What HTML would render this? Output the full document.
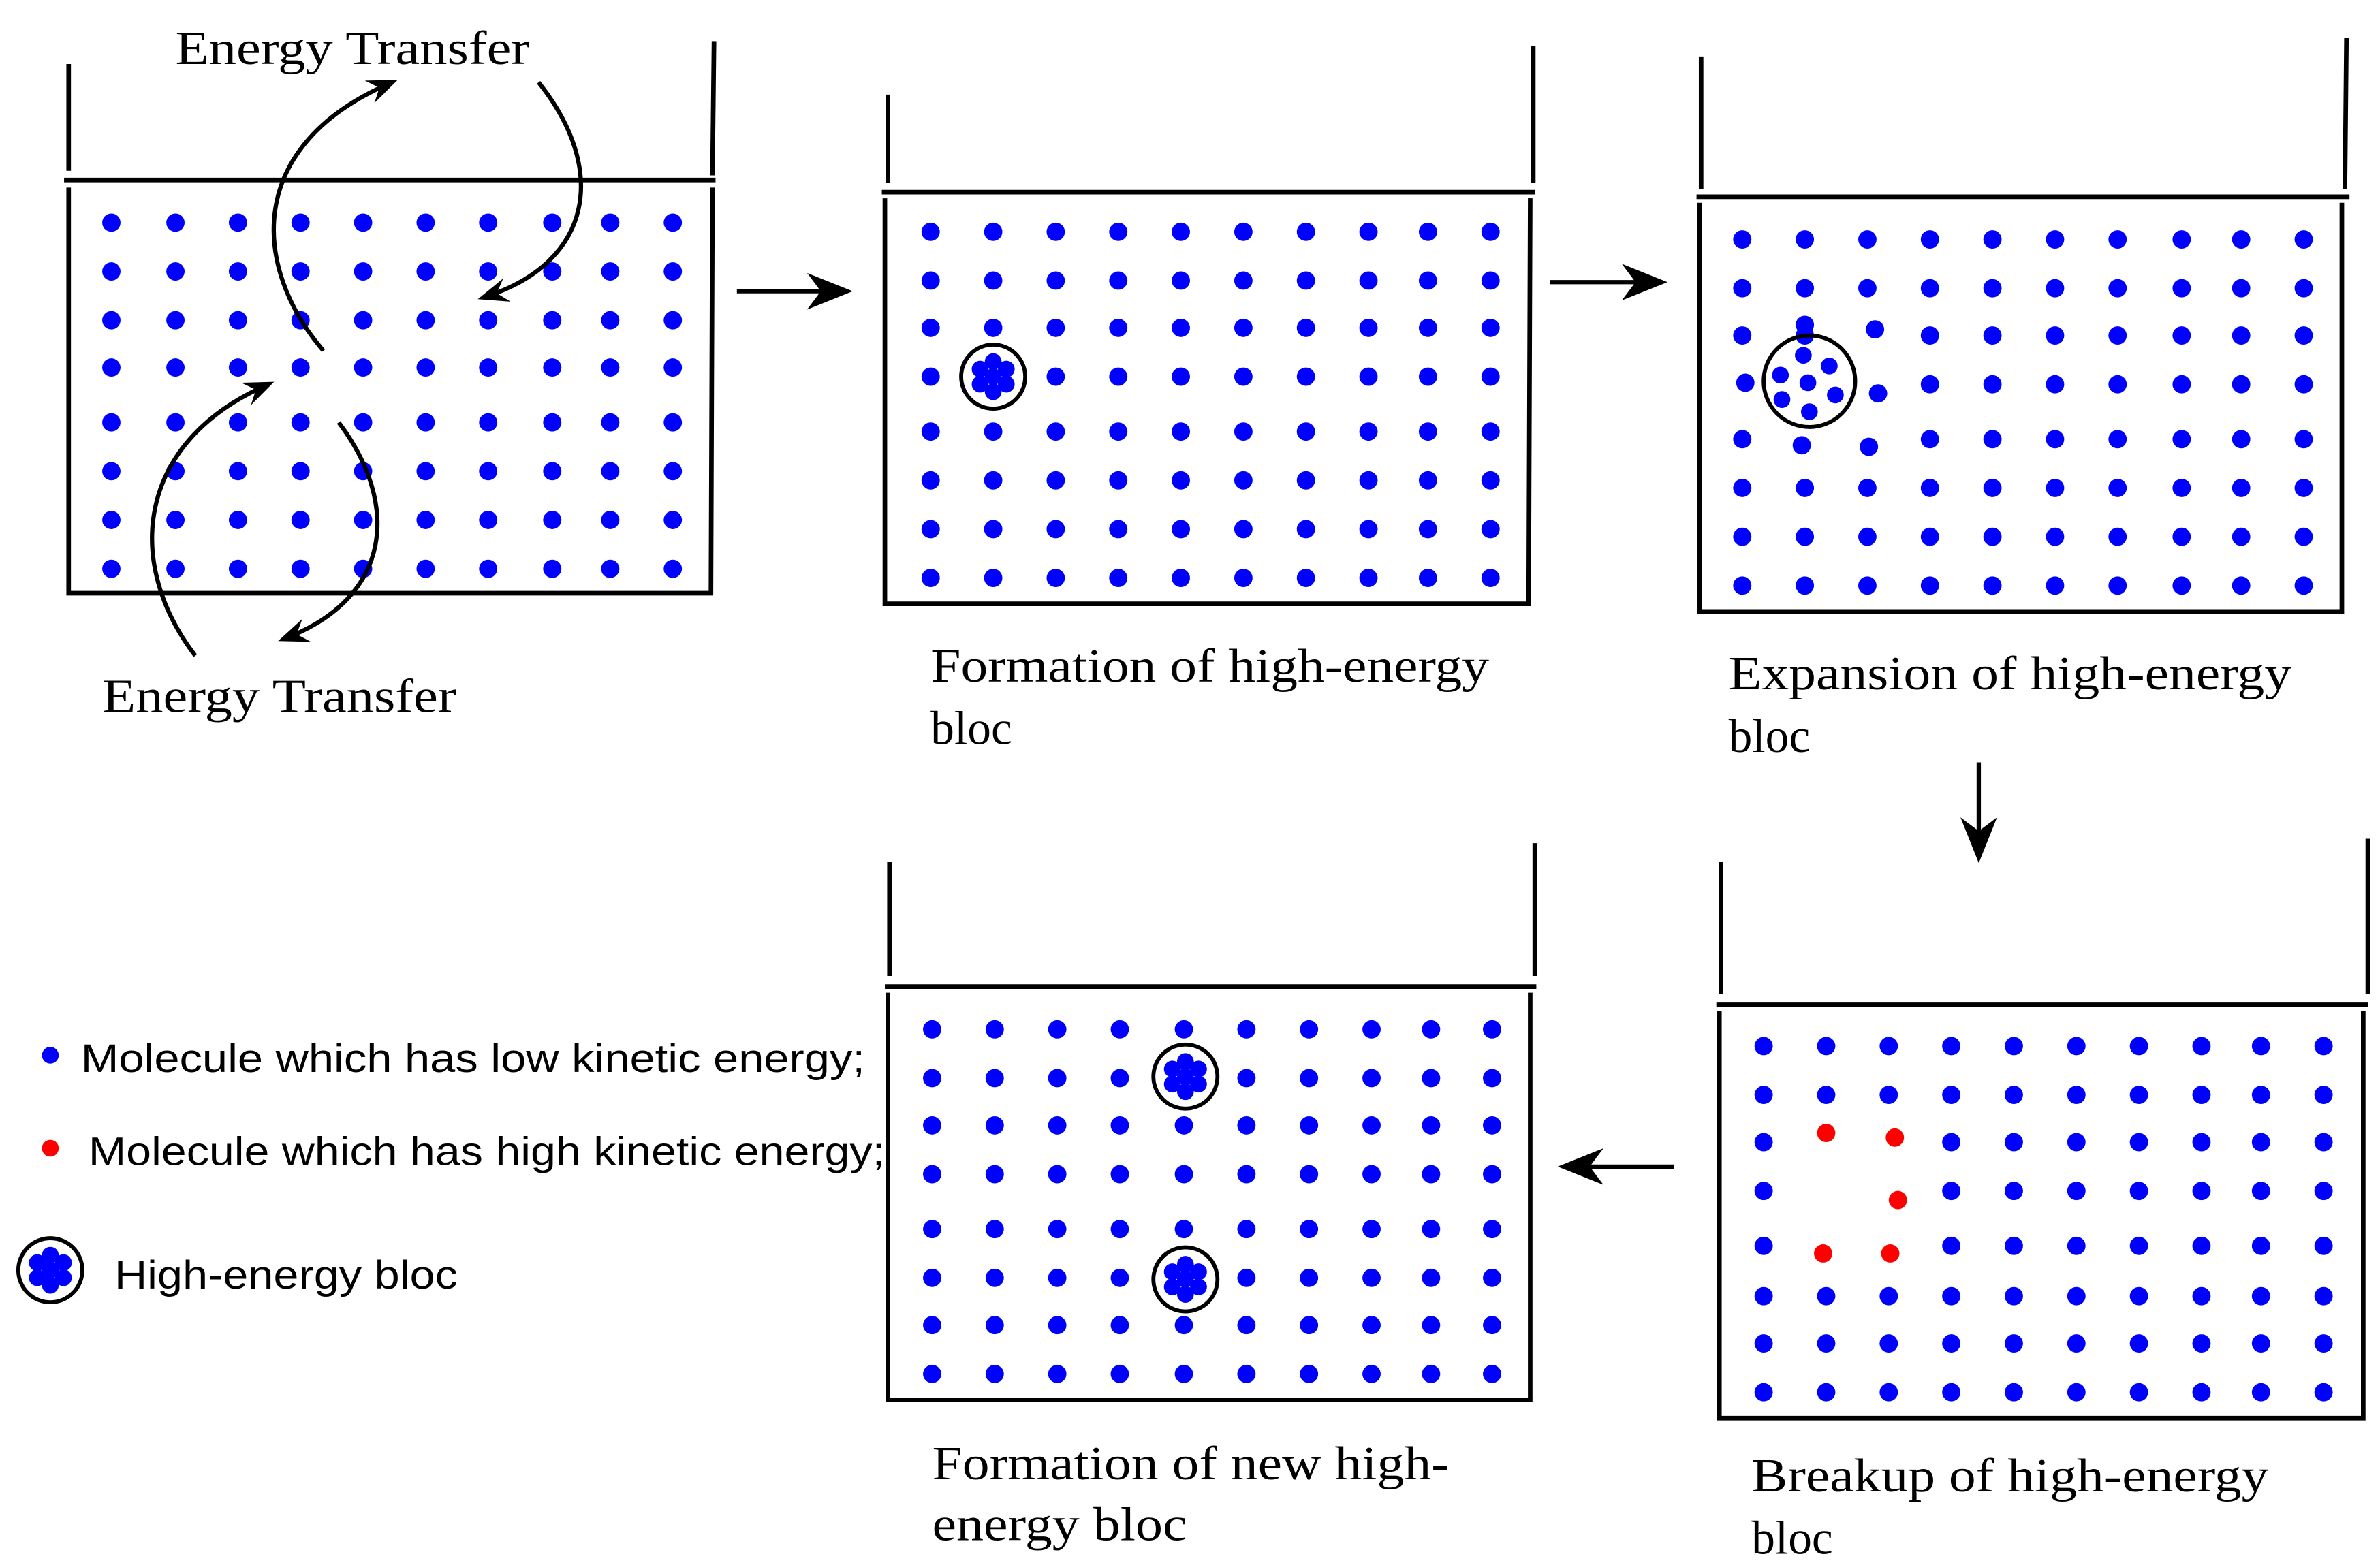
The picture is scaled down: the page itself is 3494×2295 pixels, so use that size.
<!DOCTYPE html>
<html><head><meta charset="utf-8"><style>
html,body{margin:0;padding:0;background:#fff}
svg{display:block}
.serif{font-family:"Liberation Serif",serif;font-size:31px;fill:#000}
.sans{font-family:"Liberation Sans",sans-serif;font-size:26px;fill:#000}
</style></head><body>
<svg id="fig" width="3494" height="2295" viewBox="0 0 1560 1025" preserveAspectRatio="none" xmlns="http://www.w3.org/2000/svg">
<defs><marker id="ah" viewBox="0 0 10 10" refX="8" refY="5" markerWidth="20" markerHeight="20" orient="auto" markerUnits="userSpaceOnUse"><path d="M0,1 L10,5 L0,9 L3.5,5 Z" fill="#000"/></marker>
<marker id="ah2" viewBox="0 0 10 10" refX="8" refY="5" markerWidth="30" markerHeight="30" orient="auto" markerUnits="userSpaceOnUse"><path d="M0,1 L10,5 L0,9 L3,5 Z" fill="#000"/></marker></defs>
<g id="panels" stroke="#000" stroke-width="3" fill="none">
<g><line x1="45" y1="42" x2="45" y2="112"/><line x1="468" y1="27" x2="467" y2="115"/><line x1="42" y1="118" x2="469" y2="118"/><polyline points="45,123 45,389 466,389 467,123"/></g>
<g><line x1="582" y1="62" x2="582" y2="120"/><line x1="1005" y1="30" x2="1005" y2="120"/><line x1="578" y1="126" x2="1006" y2="126"/><polyline points="580,130 580,396 1002,396 1003,130"/></g>
<g><line x1="1115" y1="37" x2="1115" y2="124"/><line x1="1538" y1="25" x2="1537" y2="124"/><line x1="1112" y1="129" x2="1540" y2="129"/><polyline points="1114,133 1114,401 1535,401 1535,133"/></g>
<g><line x1="1128" y1="565" x2="1128" y2="652"/><line x1="1552" y1="550" x2="1552" y2="652"/><line x1="1125" y1="659" x2="1552" y2="659"/><polyline points="1127,663 1127,930 1549,930 1549,663"/></g>
<g><line x1="583" y1="565" x2="583" y2="640"/><line x1="1006" y1="553" x2="1006" y2="640"/><line x1="580" y1="647" x2="1007" y2="647"/><polyline points="582,651 582,918 1003,918 1003,651"/></g>
</g>
<g id="dots"></g>
<g stroke="#000" stroke-width="2.8" fill="none">
<path d="M212,230 C165,175 160,95 257,54" marker-end="url(#ah)"/>
<path d="M353,54 C398,110 390,172 317,195" marker-end="url(#ah)"/>
<path d="M128,430 C82,370 88,290 176,252" marker-end="url(#ah)"/>
<path d="M222,277 C262,330 258,392 186,419" marker-end="url(#ah)"/>
<line x1="483" y1="191" x2="553" y2="191" marker-end="url(#ah2)"/>
<line x1="1016" y1="185" x2="1087" y2="185" marker-end="url(#ah2)"/>
<line x1="1297" y1="500" x2="1297" y2="560" marker-end="url(#ah2)"/>
<line x1="1097" y1="765" x2="1027" y2="765" marker-end="url(#ah2)"/>
</g>
<text class="serif" x="115" y="42" textLength="232" lengthAdjust="spacingAndGlyphs">Energy Transfer</text>
<text class="serif" x="67" y="467" textLength="232" lengthAdjust="spacingAndGlyphs">Energy Transfer</text>
<text class="serif" x="610" y="447" textLength="366" lengthAdjust="spacingAndGlyphs">Formation of high-energy</text>
<text class="serif" x="610" y="488">bloc</text>
<text class="serif" x="1133" y="452" textLength="369" lengthAdjust="spacingAndGlyphs">Expansion of high-energy</text>
<text class="serif" x="1133" y="493">bloc</text>
<text class="serif" x="1148" y="978" textLength="339" lengthAdjust="spacingAndGlyphs">Breakup of high-energy</text>
<text class="serif" x="1148" y="1019">bloc</text>
<text class="serif" x="611" y="970" textLength="339" lengthAdjust="spacingAndGlyphs">Formation of new high-</text>
<text class="serif" x="611" y="1010" textLength="167" lengthAdjust="spacingAndGlyphs">energy bloc</text>
<g>
<circle cx="33" cy="692" r="5.5" fill="#0000ff"/>
<text class="sans" x="53" y="703" textLength="514" lengthAdjust="spacingAndGlyphs">Molecule which has low kinetic energy;</text>
<circle cx="33" cy="753" r="5.5" fill="#ff0000"/>
<text class="sans" x="58" y="764" textLength="522" lengthAdjust="spacingAndGlyphs">Molecule which has high kinetic energy;</text>
<text class="sans" x="75" y="845" textLength="225" lengthAdjust="spacingAndGlyphs">High-energy bloc</text>
</g>
</svg>
<script>
const NS='http://www.w3.org/2000/svg';
const g=document.getElementById('dots');
const p1Cols=[73,115,156,197,238,279,320,362,400,441];
const p1Rows=[146,178,210,241,277,309,341,373];
const p2Cols=[610,651,692,733,774,815,856,897,936,977];
const p2Rows=[152,184,215,247,283,315,347,379];
const p3Cols=[1142,1183,1224,1265,1306,1347,1388,1430,1469,1510];
const p3Rows=[157,189,220,252,288,320,352,384];
const p4Cols=[1156,1197,1238,1279,1320,1361,1402,1443,1482,1523];
const p4Rows=[686,718,749,781,817,850,881,913];
const p5Cols=[611,652,693,734,776,817,858,899,938,978];
const p5Rows=[675,707,738,770,806,838,869,901];
const p2Skip=[[3,1]];
const p3Skip=[[2,2],[3,0],[3,1],[3,2],[4,1],[4,2]];
const p4Skip=[[2,1],[2,2],[3,1],[3,2],[4,1],[4,2]];
const p5Skip=[[1,4],[5,4]];
const p3Extra=[[1229,216],[1144,251],[1231,258],[1181,292],[1225,293],[1183,213]];
const redDots=[[1197,743],[1242,746],[1244,787],[1195,822],[1239,822]];
const blocs=[[651,247,21],[777,706,21],[777,839,21],[33,833,21]];
const expandedBloc=[1186,250,30];
const expandedInner=[[1182,233],[1199,240],[1167,246],[1185,251],[1203,259],[1168,262],[1186,270]];

function dot(x,y,c,r,name){const e=document.createElementNS(NS,'circle');e.setAttribute('cx',x);e.setAttribute('cy',y);e.setAttribute('r',r);e.setAttribute('fill',c);


g.appendChild(e);return e;}
function ring(x,y,r,name){const e=document.createElementNS(NS,'circle');e.setAttribute('cx',x);e.setAttribute('cy',y);e.setAttribute('r',r);e.setAttribute('fill','none');e.setAttribute('stroke','#000');e.setAttribute('stroke-width','2.6');


g.appendChild(e);}
function grid(cols,rows,skip,name){rows.forEach((y,i)=>cols.forEach((x,j)=>{if(skip.some(s=>s[0]===i&&s[1]===j))return;dot(x,y,'#0000ff',6,name);}));}
grid(p1Cols,p1Rows,[],'low-energy-molecule');
grid(p2Cols,p2Rows,p2Skip,'low-energy-molecule');
grid(p3Cols,p3Rows,p3Skip,'low-energy-molecule');
grid(p4Cols,p4Rows,p4Skip,'low-energy-molecule');
grid(p5Cols,p5Rows,p5Skip,'low-energy-molecule');
p3Extra.forEach(p=>dot(p[0],p[1],'#0000ff',6,'low-energy-molecule'));
redDots.forEach(p=>dot(p[0],p[1],'#ff0000',6,'high-energy-molecule'));
blocs.forEach(b=>{const [cx,cy,r]=b;const d=r*0.47;
[[0,0],[0,-1],[0.87,-0.5],[0.87,0.5],[0,1],[-0.87,0.5],[-0.87,-0.5]].forEach(o=>dot(cx+o[0]*d,cy+o[1]*d,'#0000ff',5.5,'bloc-molecule'));
ring(cx,cy,r,'high-energy-bloc');});
expandedInner.forEach(p=>dot(p[0],p[1],'#0000ff',5.5,'bloc-molecule'));
ring(expandedBloc[0],expandedBloc[1],expandedBloc[2],'expanding-bloc');
</script>
</body></html>
